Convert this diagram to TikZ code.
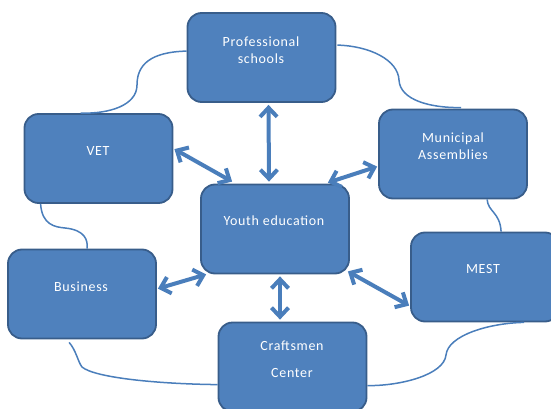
\documentclass[tikz,border=0pt]{standalone}
\usepackage{fontspec}
\setmainfont{Carlito}[LetterSpace=5]
\usetikzlibrary{arrows.meta,calc}
\definecolor{boxfill}{HTML}{4F81BD}
\definecolor{boxline}{HTML}{385D8A}
\definecolor{conn}{HTML}{4A7EBB}
\begin{document}
\begin{tikzpicture}[x=1pt,y=-1pt,
  box/.style={draw=boxline,line width=1.8pt,fill=boxfill,rounded corners=14pt,minimum width=148pt,minimum height=89pt,inner sep=0pt},
  lbl/.style={text=white,font=\fontsize{14}{17}\selectfont,align=center,inner sep=0pt},
  link/.style={draw=conn,line width=1.5pt},
  dbl/.style={draw=conn,line width=4pt,{Straight Barb[length=9pt,width=17pt]}-{Straight Barb[length=9pt,width=17pt]}}]
\useasboundingbox (0,0) rectangle (551,409);
% boxes
\node[box] (prof) at (261.5,57.5) {};
\node[box] (vet) at (98.5,158.5) {};
\node[box] (muni) at (453,154) {};
\node[box] (youth) at (275,229) {};
\node[box] (bus) at (82,294) {};
\node[box] (mest) at (485,277) {};
\node[box] (craft) at (292.5,367) {};
% thin connectors
\draw[link] ($(prof.north west)+(0,39)$) .. controls (150,52) and (137,65) .. (137,85) .. controls (137,105) and (110,114) .. ($(vet.north west)+(57,0)$);
\draw[link] ($(prof.north east)+(1,33)$) .. controls (370,46) and (398,60) .. (399,80) .. controls (400,100) and (430,108) .. ($(muni.north west)+(83,-1)$);
\draw[link] ($(vet.south west)+(17,0)$) .. controls (42,225) and (55,227) .. (65,228) .. controls (85,230) and (88,240) .. ($(bus.north west)+(80,0)$);
\draw[link] ($(muni.south west)+(109,0)$) .. controls (488,212) and (500,212) .. ($(mest.north west)+(91,0)$);
\draw[link] ($(bus.south west)+(62,3)$) .. controls (76,350) and (78,362) .. (82,367) .. controls (95,378) and (160,384) .. ($(craft.north west)+(0,63)$);
\draw[link] ($(mest.south west)+(114,0)$) .. controls (490,323) and (448,335) .. (446,355) .. controls (444,375) and (400,386) .. ($(craft.north east)+(0,64)$);
% thick double arrows
\draw[dbl] ($(prof.south)+(7,2)$) -- ($(youth.north)+(-6,-2)$);
\draw[dbl] ($(vet.north east)+(1,36)$) -- ($(youth.north west)+(32,-2)$);
\draw[dbl] ($(muni.north west)+(-1,58)$) -- ($(youth.north east)+(-22,-1)$);
\draw[dbl] ($(bus.north east)+(1,40)$) -- ($(youth.south west)+(6,0)$);
\draw[dbl] ($(youth.south)+(5,2)$) -- ($(craft.north)+(-12.5,-2)$);
\draw[dbl] ($(youth.south east)+(-2,-3)$) -- ($(mest.north west)+(-1,74)$);
% texts
\node[lbl] (tprof) at (261,50.5) {Professional\\schools};
\node[lbl] (tvet) at (98,151) {VET};
\node[lbl] (tmuni) at (453,146.5) {Municipal\\Assemblies};
\node[lbl] (tyouth) at (274,221) {Youth education};
\node[lbl] (tbus) at (81,287) {Business};
\node[lbl] (tmest) at (483,269) {MEST};
\node[lbl] (tcraft) at (292,359.5) {Craftsmen\\[10pt]Center};
\end{tikzpicture}
\end{document}
